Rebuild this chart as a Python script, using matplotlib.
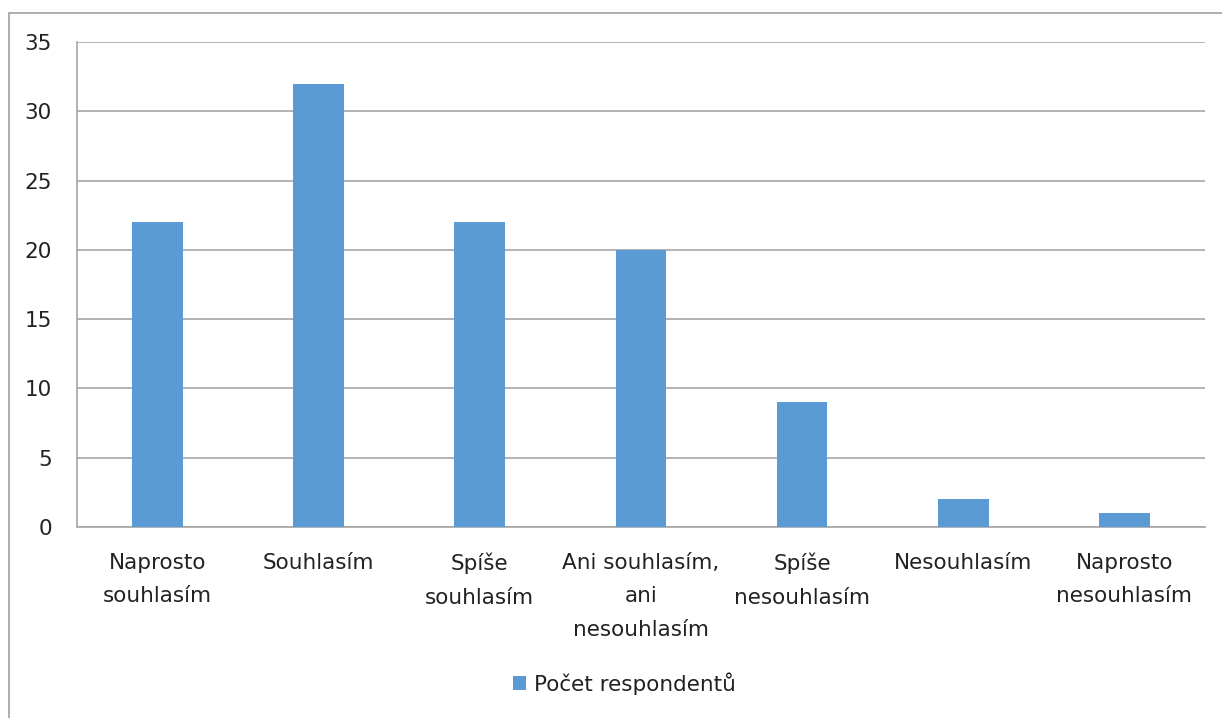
import matplotlib
from matplotlib import pyplot as plt
from matplotlib.patches import Rectangle

categories = [
    "Naprosto\nsouhlasím",
    "Souhlasím",
    "Spíše\nsouhlasím",
    "Ani souhlasím,\nani\nnesouhlasím",
    "Spíše\nnesouhlasím",
    "Nesouhlasím",
    "Naprosto\nnesouhlasím",
]
counts = [22, 32, 22, 20, 9, 2, 1]
yticks = [0, 5, 10, 15, 20, 25, 30, 35]
series_name = "Počet respondentů"

matplotlib.rc("font", family=["DejaVu Sans"], size=15.5)

fig = plt.figure(figsize=(12.22, 7.18), dpi=100)
ax = fig.add_axes([0.063, 0.266, 0.923, 0.6755])

# outer chart frame, open on the right and bottom
fig.patches.append(
    Rectangle((9 / 1222, -0.1), 1.2, 1.1 - 13 / 718,
              transform=fig.transFigure, fill=False,
              edgecolor="#a0a0a0", linewidth=1.2)
)

x = list(range(len(categories)))
ax.bar(x, counts, width=0.315, color="#5b9bd5", label=series_name, zorder=3)

ax.set_xlim(-0.5, len(categories) - 0.5)
ax.set_ylim(0, 35)
ax.set_yticks(yticks)
ax.set_xticks(x)
ax.set_xticklabels(categories, linespacing=1.85, color="#222222")
ax.tick_params(axis="y", length=0, pad=18, labelcolor="#222222")
ax.tick_params(axis="x", length=0, pad=18.5)
ax.grid(axis="y", color="#a6a6a6", linewidth=1.2, zorder=0)

for side in ("top", "right"):
    ax.spines[side].set_visible(False)
for side in ("left", "bottom"):
    ax.spines[side].set_color("#a6a6a6")
    ax.spines[side].set_linewidth(1.2)

fig.legend(loc="center", bbox_to_anchor=(0.511, 0.048), frameon=False,
           handlelength=0.62, handleheight=0.62, handletextpad=0.4,
           labelcolor="#222222")

fig.savefig("out.png", dpi=100)
